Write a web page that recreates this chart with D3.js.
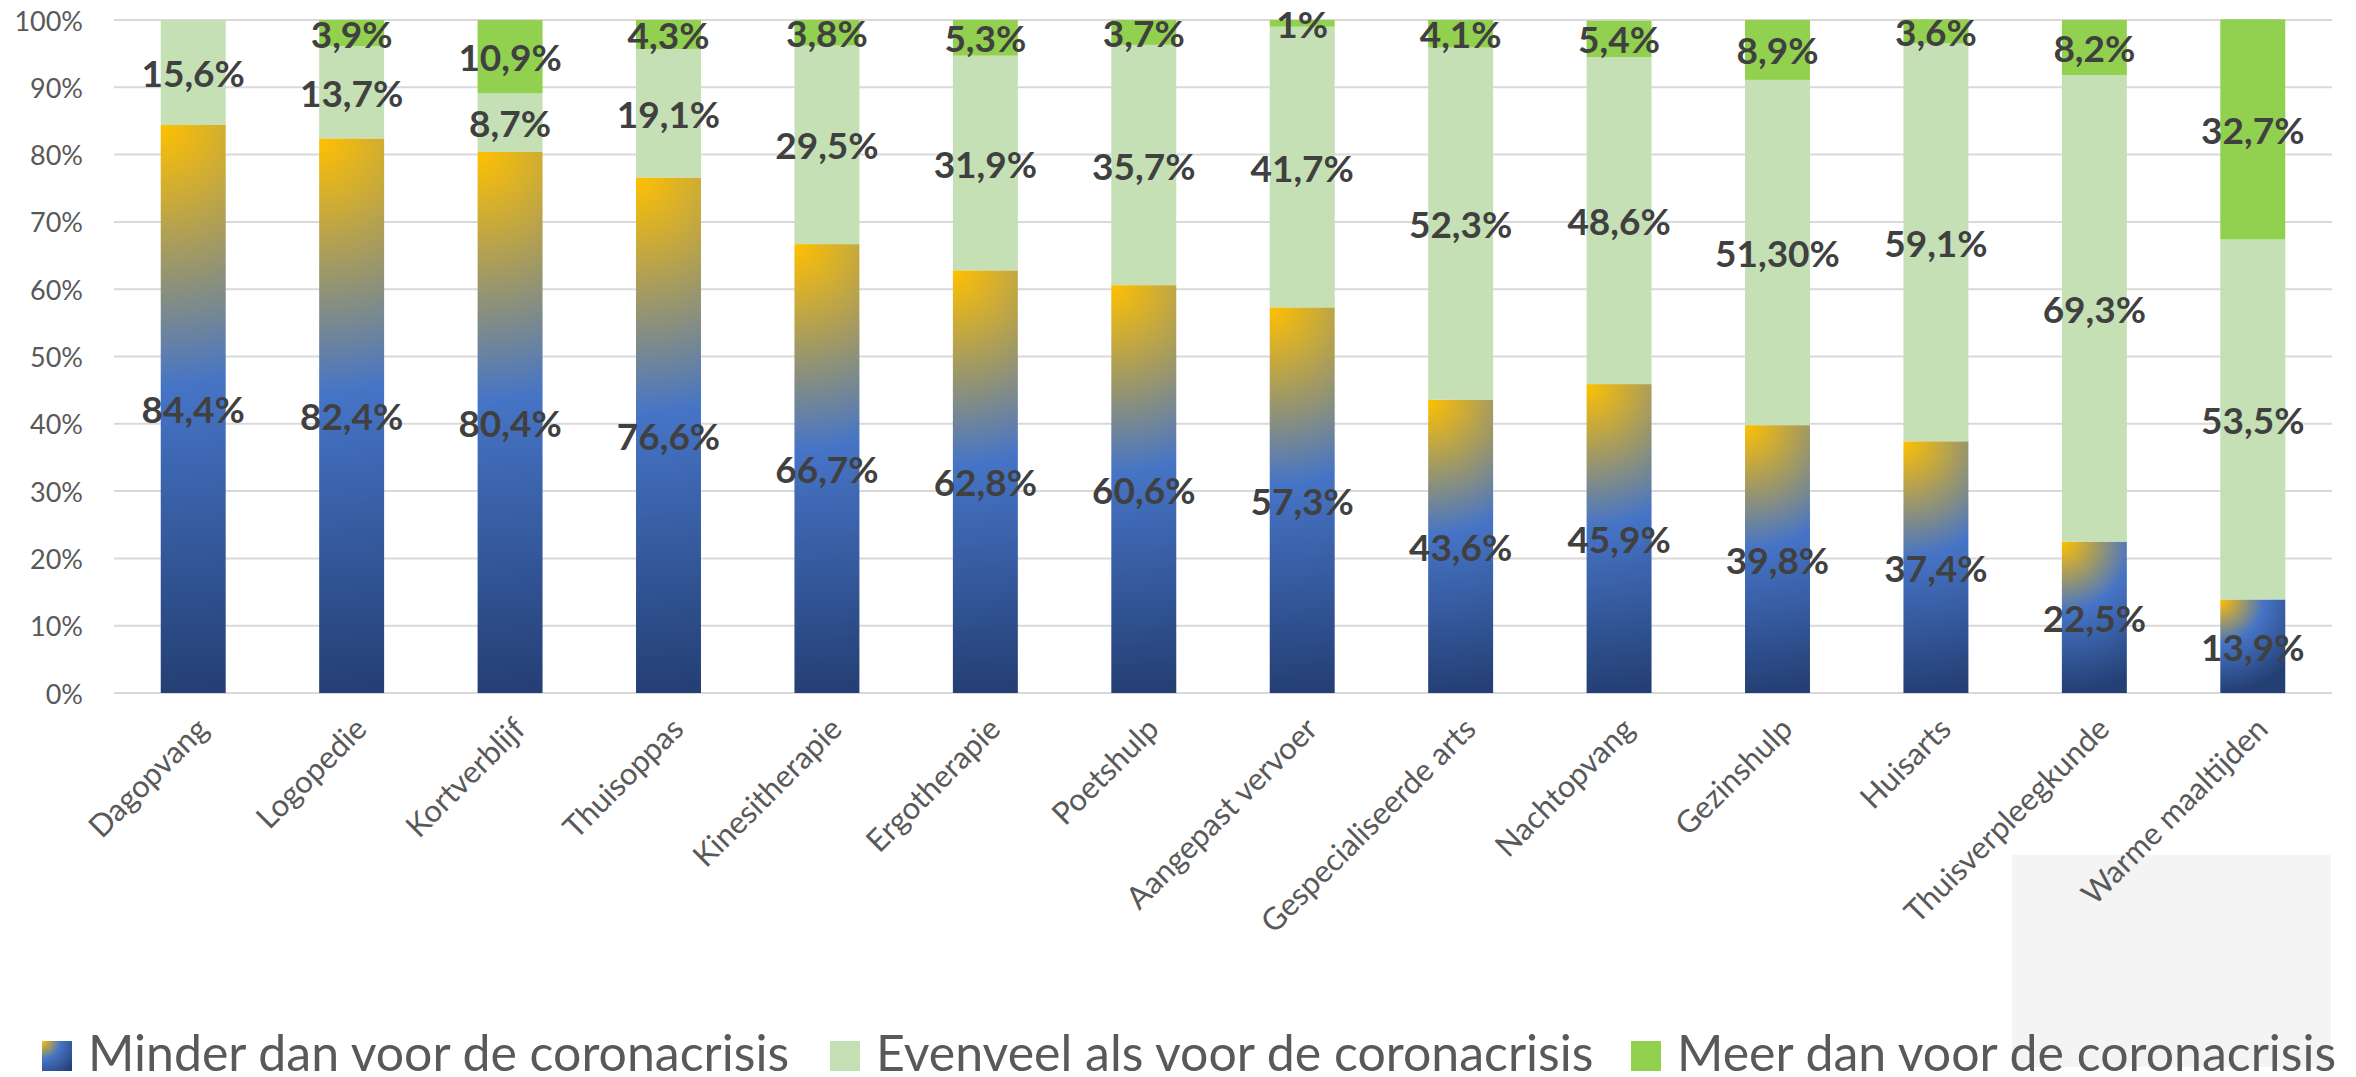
<!DOCTYPE html>
<html>
<head>
<meta charset="utf-8">
<script src="https://cdn.jsdelivr.net/npm/d3@7"></script>
<style>
  html, body { margin: 0; padding: 0; background: #ffffff; }
  svg { display: block; }
</style>
</head>
<body>
<svg id="chart" width="2356" height="1077"></svg>
<script>
// ---- data ----
const categories = ["Dagopvang", "Logopedie", "Kortverblijf", "Thuisoppas", "Kinesitherapie", "Ergotherapie", "Poetshulp", "Aangepast vervoer", "Gespecialiseerde arts", "Nachtopvang", "Gezinshulp", "Huisarts", "Thuisverpleegkunde", "Warme maaltijden"];
const seriesNames = ["Minder dan voor de coronacrisis", "Evenveel als voor de coronacrisis", "Meer dan voor de coronacrisis"];
const minder   = [84.4, 82.4, 80.4, 76.6, 66.7, 62.8, 60.6, 57.3, 43.6, 45.9, 39.8, 37.4, 22.5, 13.9];
const evenveel = [15.6, 13.7, 8.7, 19.1, 29.5, 31.9, 35.7, 41.7, 52.3, 48.6, 51.3, 59.1, 69.3, 53.5];
const meer     = [0, 3.9, 10.9, 4.3, 3.8, 5.3, 3.7, 1, 4.1, 5.4, 8.9, 3.6, 8.2, 32.7];
const minderLabels   = ["84,4%", "82,4%", "80,4%", "76,6%", "66,7%", "62,8%", "60,6%", "57,3%", "43,6%", "45,9%", "39,8%", "37,4%", "22,5%", "13,9%"];
const evenveelLabels = ["15,6%", "13,7%", "8,7%", "19,1%", "29,5%", "31,9%", "35,7%", "41,7%", "52,3%", "48,6%", "51,30%", "59,1%", "69,3%", "53,5%"];
const meerLabels     = ["", "3,9%", "10,9%", "4,3%", "3,8%", "5,3%", "3,7%", "1%", "4,1%", "5,4%", "8,9%", "3,6%", "8,2%", "32,7%"];
const yTicks = [0, 10, 20, 30, 40, 50, 60, 70, 80, 90, 100];
const tickLabels = ["0%", "10%", "20%", "30%", "40%", "50%", "60%", "70%", "80%", "90%", "100%"];

// ---- layout ----
const svg = d3.select("#chart");
const plot = { left: 114, right: 2332, top: 20, bottom: 693 };
const FONT = "Lato, 'Open Sans', sans-serif";

const x = d3.scaleBand().domain(categories).range([plot.left, plot.right])
  .paddingInner(0.59).paddingOuter(0.295);
const y = d3.scaleLinear().domain([0, 100]).range([plot.bottom, plot.top]);

const defs = svg.append("defs");

// stacked rows
const rows = categories.map((c, i) => ({
  cat: c, i,
  segs: [
    { key: 0, y0: 0, y1: minder[i], label: minderLabels[i] },
    { key: 1, y0: minder[i], y1: minder[i] + evenveel[i], label: evenveelLabels[i] },
    { key: 2, y0: minder[i] + evenveel[i], y1: minder[i] + evenveel[i] + meer[i], label: meerLabels[i] }
  ]
}));

// per-bar radial gradients for the "Minder" series (from top-left corner)
function addGrad(id, cx, cy, r) {
  const g = defs.append("radialGradient").attr("id", id)
    .attr("gradientUnits", "userSpaceOnUse")
    .attr("cx", cx).attr("cy", cy).attr("fx", cx).attr("fy", cy).attr("r", r);
  g.append("stop").attr("offset", "0").attr("stop-color", "#ffc000");
  g.append("stop").attr("offset", "0.46").attr("stop-color", "#4674c6");
  g.append("stop").attr("offset", "1").attr("stop-color", "#243f74");
}
rows.forEach(r => {
  const s = r.segs[0];
  addGrad("gm" + r.i, x(r.cat), y(s.y1), y(s.y0) - y(s.y1));
});

// gray background patch (bottom right)
svg.append("rect").attr("x", 2012).attr("y", 855).attr("width", 319).attr("height", 212)
  .attr("fill", "#f4f4f4");

// gridlines
svg.append("g").selectAll("line").data(yTicks).join("line")
  .attr("x1", plot.left).attr("x2", plot.right)
  .attr("y1", d => y(d)).attr("y2", d => y(d))
  .attr("stroke", "#d9d9d9").attr("stroke-width", 2);

// y tick labels
svg.append("g").selectAll("text").data(yTicks).join("text")
  .attr("x", 83).attr("y", d => y(d))
  .attr("text-anchor", "end").attr("dominant-baseline", "central")
  .attr("font-family", FONT).attr("font-size", 27).attr("fill", "#595959")
  .text((d, i) => tickLabels[i]);

// bars
const segColors = [null, "#c5e0b4", "#92d050"];
const barG = svg.append("g");
rows.forEach(r => {
  barG.selectAll(null).data(r.segs.filter(s => s.y1 > s.y0)).join("rect")
    .attr("x", x(r.cat)).attr("width", x.bandwidth())
    .attr("y", s => y(s.y1)).attr("height", s => y(s.y0) - y(s.y1))
    .attr("fill", s => s.key === 0 ? `url(#gm${r.i})` : segColors[s.key]);
});

// data labels
const labG = svg.append("g");
rows.forEach(r => {
  labG.selectAll(null).data(r.segs.filter(s => s.label)).join("text")
    .attr("x", x(r.cat) + x.bandwidth() / 2)
    .attr("y", s => y((s.y0 + s.y1) / 2))
    .attr("text-anchor", "middle").attr("dominant-baseline", "central")
    .attr("font-family", FONT).attr("font-weight", 700).attr("font-size", 37)
    .attr("fill", "#404040")
    .text(s => s.label);
});

// category labels
svg.append("g").selectAll("text").data(categories).join("text")
  .attr("transform", d => `translate(${x(d) + x.bandwidth() / 2 + 17},${plot.bottom + 38}) rotate(-45)`)
  .attr("text-anchor", "end")
  .attr("font-family", FONT).attr("font-size", 31).attr("fill", "#595959")
  .text(d => d);

// legend
addGrad("glegend", 0, 0, 40);
const legendX = [42, 830, 1631];
const legFills = ["url(#glegend)", "#c5e0b4", "#92d050"];
const leg = svg.append("g").selectAll("g").data(seriesNames).join("g")
  .attr("transform", (d, i) => `translate(${legendX[i]},1041)`);
leg.append("rect").attr("width", 30).attr("height", 30).attr("fill", (d, i) => legFills[i]);
leg.append("text").attr("x", 46).attr("y", 30)
  .attr("font-family", FONT).attr("font-size", 50).attr("fill", "#595959")
  .text(d => d);
</script>
</body>
</html>
